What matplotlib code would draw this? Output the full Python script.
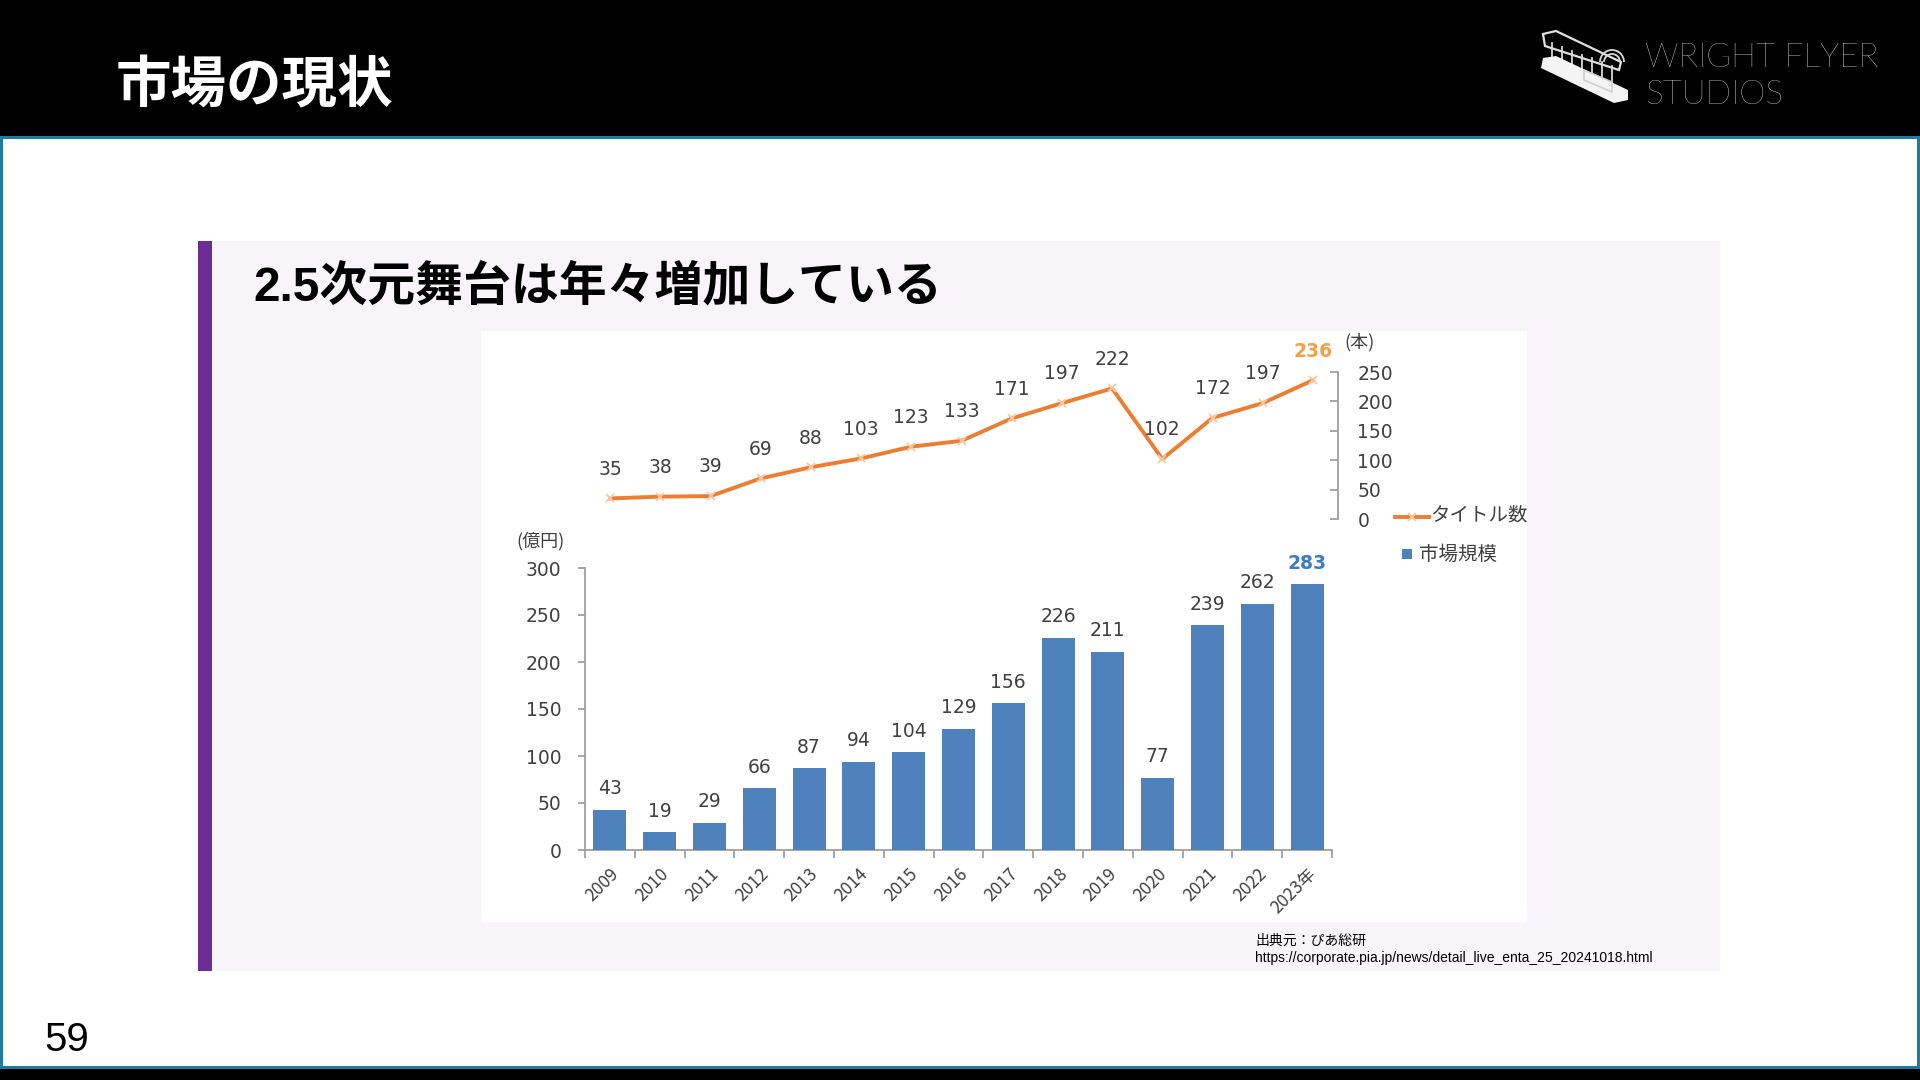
import matplotlib
matplotlib.use('Agg')
import matplotlib.pyplot as plt
from matplotlib.patches import Rectangle, Polygon, Arc
from matplotlib.lines import Line2D
import numpy as np

# ---------------- data ----------------
years = ['2009', '2010', '2011', '2012', '2013', '2014', '2015', '2016',
         '2017', '2018', '2019', '2020', '2021', '2022', '2023年']
market_size = [43, 19, 29, 66, 87, 94, 104, 129, 156, 226, 211, 77, 239, 262, 283]
title_counts = [35, 38, 39, 69, 88, 103, 123, 133, 171, 197, 222, 102, 172, 197, 236]
bar_yticks = [0, 50, 100, 150, 200, 250, 300]
line_yticks = [0, 50, 100, 150, 200, 250]

slide_title = '市場の現状'
panel_title = '2.5次元舞台は年々増加している'
page_number = '59'
source_lines = ['出典元：ぴあ総研',
                'https://corporate.pia.jp/news/detail_live_enta_25_20241018.html']

JP = ['Noto Sans CJK JP', 'DejaVu Sans']
plt.rcParams['font.family'] = JP

W, H = 1920, 1080
fig = plt.figure(figsize=(19.2, 10.8), dpi=100)
fig.patch.set_facecolor('white')


def box(x0, y0, x1, y1, color, z=-10):
    fig.add_artist(Rectangle((x0 / W, 1 - y1 / H), (x1 - x0) / W, (y1 - y0) / H,
                             transform=fig.transFigure, facecolor=color,
                             edgecolor='none', zorder=z))


def fx(x):
    return x / W


def fy(y):
    return 1 - y / H


TEAL = '#1f7b9e'
# header / frame
box(0, 0, W, 137, 'black')
box(0, 136, W, 139, TEAL)
box(0, 137, 3, 1068, TEAL)
box(W - 3, 137, W, 1068, TEAL)
box(0, 1066, W, 1069, TEAL)
box(0, 1069, W, H, 'black')

# panel
box(198, 241, 1720, 971, '#f9f4fa')
box(198, 241, 212, 971, '#6b2d94')
box(481, 331, 1527, 922, 'white')

# slide title
fig.text(fx(116), fy(86), slide_title, color='white', fontsize=40,
         fontweight='bold', family=JP, va='center', ha='left')


# logo (simple biplane icon + text)
def poly(pts, fc, ec='none', lw=0, z=5):
    fig.add_artist(Polygon([(fx(a), fy(b)) for a, b in pts], closed=True,
                           transform=fig.transFigure, facecolor=fc,
                           edgecolor=ec, linewidth=lw, zorder=z))


def seg(x0, y0, x1, y1, c='#d8d8d8', lw=1.3):
    fig.add_artist(Line2D([fx(x0), fx(x1)], [fy(y0), fy(y1)],
                          transform=fig.transFigure, color=c, lw=lw, zorder=5))


# upper wing (outlined, with struts)
poly([(1543, 34), (1556, 31), (1621, 62), (1619, 70), (1545, 46)], 'none', '#e0e0e0', 1.6)
for t in np.linspace(0.1, 0.9, 7):
    xa = 1545 + t * 74
    ya = 40 + t * 29
    seg(xa, ya, xa, ya + 22)
# small rudder arcs
for r in (8, 12):
    fig.add_artist(Arc((fx(1612), fy(62)), 2 * r / W, 2 * r / H, theta1=0, theta2=180,
                       transform=fig.transFigure, color='#d8d8d8', lw=1.3, zorder=5))
# lower wing (solid)
poly([(1543, 58), (1556, 56), (1628, 90), (1628, 100), (1614, 103), (1541, 68)], '#f4f4f4')
poly([(1584, 70), (1612, 82), (1612, 92), (1584, 80)], 'none', '#cfcfcf', 1.2, 6)

fig.text(fx(1645), fy(58), 'WRIGHT FLYER', color='white', fontsize=24,
         family=['Lato', 'DejaVu Sans'], fontweight='light', va='center', ha='left')
fig.text(fx(1645), fy(95), 'STUDIOS', color='white', fontsize=24,
         family=['Lato', 'DejaVu Sans'], fontweight='light', va='center', ha='left')

# panel title
fig.text(fx(253), fy(288), panel_title, color='black', fontsize=34.5,
         fontweight='bold', family=['Liberation Sans', 'Noto Sans CJK JP'],
         va='center', ha='left')

# page number
fig.text(fx(44), fy(1040), page_number, color='black', fontsize=29,
         family=['Liberation Sans'], va='center', ha='left')

# source text
fig.text(fx(1255), fy(941), source_lines[0], color='black', fontsize=10,
         family=['Liberation Sans', 'Noto Sans CJK JP'], va='center', ha='left')
fig.text(fx(1255), fy(958), source_lines[1], color='black', fontsize=10,
         family=['Liberation Sans', 'Noto Sans CJK JP'], va='center', ha='left')

GRAY_TXT = '#404040'
AX_GRAY = '#a0a0a0'
BLUE = '#4f81bd'
ORANGE = '#ed7d31'

x = np.arange(len(years))

# ---------------- bar chart ----------------
b_y0, b_y300 = 850, 568
ax1 = fig.add_axes([fx(585), fy(b_y0), (1332 - 585) / W, (b_y0 - b_y300) / H])
ax1.set_facecolor('none')
bars = ax1.bar(x, market_size, width=0.66, color=BLUE, zorder=3)
ax1.set_xlim(-0.5, len(years) - 0.5)
ax1.set_ylim(0, 300)
for s in ['top', 'right']:
    ax1.spines[s].set_visible(False)
for s in ['left', 'bottom']:
    ax1.spines[s].set_color(AX_GRAY)
    ax1.spines[s].set_linewidth(1.3)
ax1.set_yticks(bar_yticks)
ax1.set_yticklabels([str(v) for v in bar_yticks], fontsize=13.5, color=GRAY_TXT,
                    family=['DejaVu Sans'])
ax1.tick_params(axis='y', direction='out', length=5, color=AX_GRAY, width=1.3, pad=12)
ax1.set_xticks(x)
ax1.set_xticklabels(years, rotation=45, ha='right', va='top', rotation_mode='anchor',
                    fontsize=12.5, color=GRAY_TXT)
ax1.set_xticks(np.arange(-0.5, len(years), 1.0), minor=True)
ax1.tick_params(axis='x', which='major', length=0, pad=11)
ax1.tick_params(axis='x', which='minor', direction='out', length=6, color=AX_GRAY, width=1.3)

for i, v in enumerate(market_size):
    last = i == len(market_size) - 1
    ax1.annotate(str(v), (i, v), xytext=(0, 15), textcoords='offset points',
                 ha='center', va='center', fontsize=13.5,
                 color='#3d7cc0' if last else GRAY_TXT,
                 fontweight='bold' if last else 'normal',
                 family=['DejaVu Sans'])

fig.text(fx(541), fy(541), '(億円)', color=GRAY_TXT, fontsize=13,
         va='center', ha='center', family=JP)

# ---------------- line chart ----------------
l_y0, l_y250 = 519, 372
ax2 = fig.add_axes([fx(585), fy(l_y0), (1338 - 585) / W, (l_y0 - l_y250) / H])
ax2.set_facecolor('none')
line, = ax2.plot(x, title_counts, color=ORANGE, lw=2.8, marker='x', ms=5.5,
                 mec='#f9c9a6', mew=1.4, zorder=3)
ax2.set_xlim(-0.5, len(years) - 0.5)
ax2.set_ylim(0, 250)
for s in ['top', 'left', 'bottom']:
    ax2.spines[s].set_visible(False)
ax2.spines['right'].set_color(AX_GRAY)
ax2.spines['right'].set_linewidth(1.3)
ax2.set_xticks([])
ax2.yaxis.tick_right()
ax2.set_yticks(line_yticks)
ax2.set_yticklabels([str(v) for v in line_yticks], fontsize=13.5, color=GRAY_TXT,
                    family=['DejaVu Sans'])
ax2.tick_params(axis='y', direction='in', length=6, color=AX_GRAY, width=1.3, pad=14)

for i, v in enumerate(title_counts):
    last = i == len(title_counts) - 1
    ax2.annotate(str(v), (i, v), xytext=(0, 21), textcoords='offset points',
                 ha='center', va='center', fontsize=13.5,
                 color='#f0a048' if last else GRAY_TXT,
                 fontweight='bold' if last else 'normal',
                 family=['DejaVu Sans'])

fig.text(fx(1360), fy(342), '(本)', color=GRAY_TXT, fontsize=13,
         va='center', ha='center', family=JP)

# ---------------- legend ----------------
fig.add_artist(Line2D([fx(1395), fx(1429)], [fy(517), fy(517)], transform=fig.transFigure,
                      color=ORANGE, lw=2.8, zorder=5))
fig.add_artist(Line2D([fx(1412)], [fy(517)], transform=fig.transFigure, color=ORANGE,
                      marker='x', ms=5.5, mec='#f9c9a6', mew=1.4, lw=0, zorder=6))
fig.text(fx(1430), fy(515), 'タイトル数', color=GRAY_TXT, fontsize=14,
         va='center', ha='left', family=JP)
fig.add_artist(Rectangle((fx(1402), fy(559)), 10 / W, 10 / H, transform=fig.transFigure,
                         facecolor=BLUE, edgecolor='none', zorder=5))
fig.text(fx(1419), fy(554), '市場規模', color=GRAY_TXT, fontsize=14,
         va='center', ha='left', family=JP)

fig.savefig('out.png', dpi=100, facecolor=fig.get_facecolor())
